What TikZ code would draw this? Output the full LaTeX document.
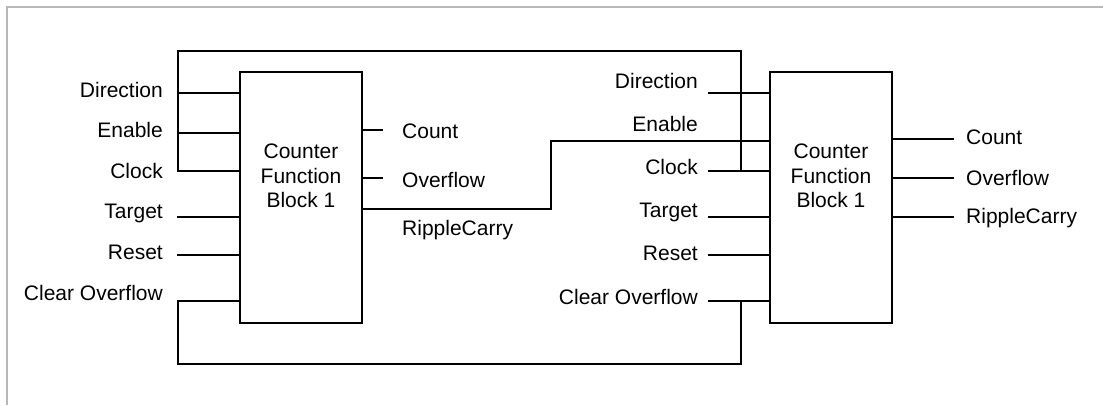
\documentclass[tikz,border=0pt]{standalone}
\usepackage{fontspec}
\setmainfont{Liberation Sans}
\begin{document}
\begin{tikzpicture}[x=1pt,y=-1pt,
  wire/.style={line width=1.8pt,line cap=rect},
  fblock/.style={draw,line width=1.8pt,minimum width=122pt,minimum height=251pt,inner sep=0pt},
  btext/.style={align=center,inner sep=0pt},
  inlabel/.style={anchor=base east,inner sep=0pt},
  outlabel/.style={anchor=base west,inner sep=0pt},
  frameline/.style={draw=black!28,line width=1.6pt},
  every node/.style={font=\fontsize{21}{24.5}\selectfont}]
\useasboundingbox (0,0) rectangle (1103,405);
\draw[frameline] (7,405) -- (7,7) -- (1103,7);

% blocks
\node[fblock] (b1) at (301,197.5) {};
\node[btext] (b1t) at (301,176) {Counter\\Function\\Block 1};
\node[fblock] (b2) at (831,197.5) {};
\node[btext] (b2t) at (831,176) {Counter\\Function\\Block 1};

% block 1 input labels
\node[inlabel] (l1dir) at (163,97) {Direction};
\node[inlabel] (l1en) at (163,137) {Enable};
\node[inlabel] (l1clk) at (163,178) {Clock};
\node[inlabel] (l1tg) at (163,218) {Target};
\node[inlabel] (l1rs) at (163,259) {Reset};
\node[inlabel] (l1co) at (163,300) {Clear Overflow};

% block 2 input labels
\node[inlabel] (l2dir) at (698,88) {Direction};
\node[inlabel] (l2en) at (698,131) {Enable};
\node[inlabel] (l2clk) at (698,174) {Clock};
\node[inlabel] (l2tg) at (698,217) {Target};
\node[inlabel] (l2rs) at (698,260) {Reset};
\node[inlabel] (l2co) at (698,304) {Clear Overflow};

% output labels
\node[outlabel] (q1cnt) at (402,138) {Count};
\node[outlabel] (q1ov) at (402,187) {Overflow};
\node[outlabel] (q1rc) at (402,235) {RippleCarry};
\node[outlabel] (q2cnt) at (966,144) {Count};
\node[outlabel] (q2ov) at (966,185) {Overflow};
\node[outlabel] (q2rc) at (966,223) {RippleCarry};

% wire end points
\coordinate (i1dir) at (178,93);
\coordinate (i1en) at (178,133);
\coordinate (i1clk) at (178,171);
\coordinate (i1tg) at (178,217);
\coordinate (i1rs) at (178,255);
\coordinate (i1co) at (178,301);
\coordinate (i2dir) at (709,93);
\coordinate (i2en) at (709,141);
\coordinate (i2clk) at (709,171);
\coordinate (i2tg) at (709,217);
\coordinate (i2rs) at (709,255);
\coordinate (i2co) at (709,301);
\coordinate (tl) at (178,51);
\coordinate (tr) at (741,51);
\coordinate (bl) at (178,364);
\coordinate (br) at (741,364);
\coordinate (o1cnt) at (382,130);
\coordinate (o1ov) at (382,178);
\coordinate (o1rc) at (362,209);
\coordinate (rca) at (551,209);
\coordinate (rcb) at (551,141);
\coordinate (o2cnt) at (953,139);
\coordinate (o2ov) at (953,178);
\coordinate (o2rc) at (953,217);

% block 1 inputs
\foreach \p in {i1dir,i1en,i1clk,i1tg,i1rs,i1co}
  \draw[wire] (\p) -- (\p -| b1.west);
% block 2 inputs
\foreach \p in {i2dir,i2clk,i2tg,i2rs,i2co}
  \draw[wire] (\p) -- (\p -| b2.west);
% loops
\draw[wire] (i1clk) -- (tl) -- (tr) -- (tr |- i2clk);
\draw[wire] (i1co) -- (bl) -- (br) -- (br |- i2co);
% outputs
\draw[wire] (o1cnt -| b1.east) -- (o1cnt);
\draw[wire] (o1ov -| b1.east) -- (o1ov);
\draw[wire] (o1rc -| b1.east) -- (rca) -- (rcb) -- (rcb -| b2.west);
\draw[wire] (o2cnt -| b2.east) -- (o2cnt);
\draw[wire] (o2ov -| b2.east) -- (o2ov);
\draw[wire] (o2rc -| b2.east) -- (o2rc);
\end{tikzpicture}
\end{document}
